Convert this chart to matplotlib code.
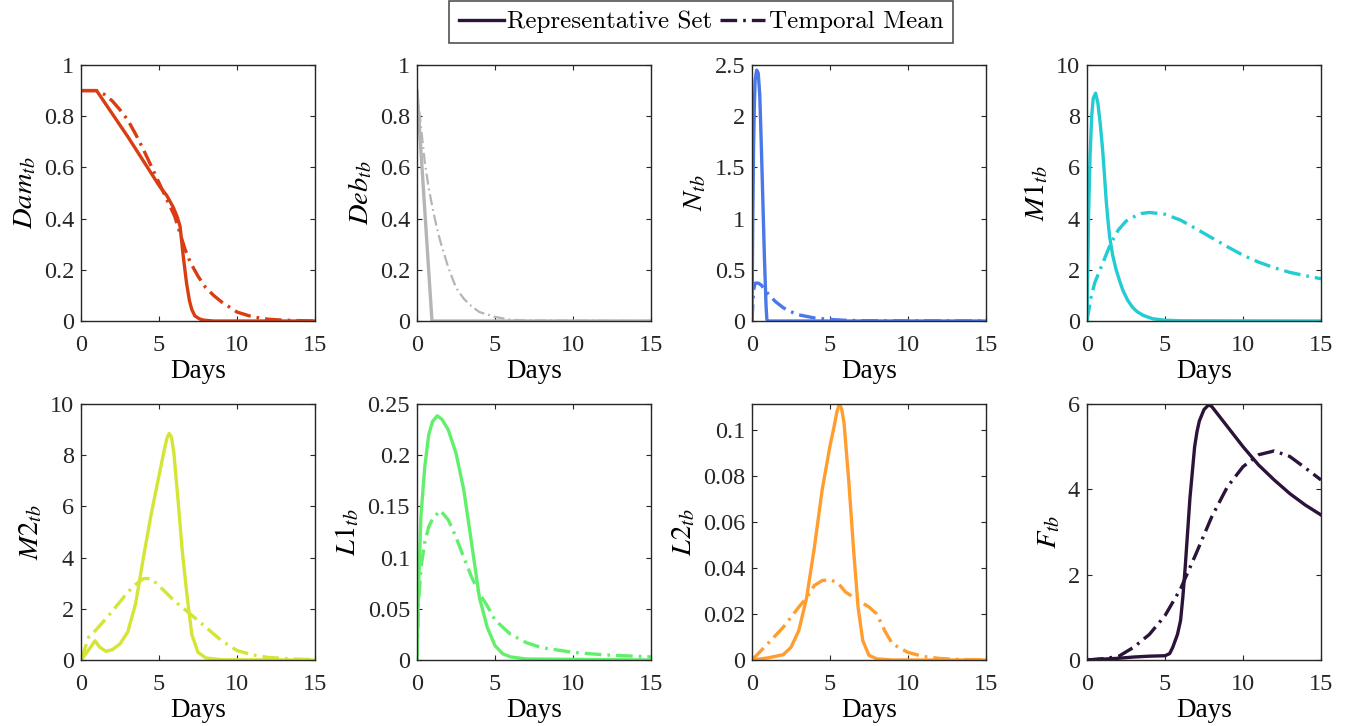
import numpy as np
import matplotlib
matplotlib.use("Agg")
import matplotlib.pyplot as plt
from matplotlib.ticker import FuncFormatter
from matplotlib.lines import Line2D

plt.rcParams['font.family'] = 'serif'
plt.rcParams['font.serif'] = ['Liberation Serif', 'DejaVu Serif']
plt.rcParams['mathtext.fontset'] = 'stix'

# Dam_tb
dam_rep_days = [0, 1.0, 2, 3, 4, 5.06, 5.5, 5.9, 6.15, 6.35, 6.56, 6.77, 6.95, 7.1, 7.3, 7.6, 7.9, 8.5, 15]
dam_rep = [0.9, 0.9, 0.81, 0.72, 0.625, 0.524, 0.49, 0.446, 0.41, 0.37, 0.25, 0.146, 0.08, 0.045, 0.02,
           0.008, 0.003, 0.0, 0.0]
dam_mean_days = [0, 1, 1.5, 2, 2.5, 3, 3.5, 4, 4.5, 5, 5.5, 6, 6.67, 7, 7.5, 8, 8.5, 9, 10, 11, 12, 13, 15]
dam_mean = [0.9, 0.9, 0.885, 0.86, 0.825, 0.785, 0.73, 0.67, 0.605, 0.54, 0.475, 0.41, 0.28, 0.23, 0.175,
            0.13, 0.1, 0.075, 0.035, 0.016, 0.007, 0.003, 0.0]

# Deb_tb
deb_rep_days = [0, 0.96, 15]
deb_rep = [0.9, 0.0, 0.0]
deb_mean_days = [0, 0.25, 0.5, 0.75, 1, 1.25, 1.5, 2, 2.5, 3, 3.5, 4, 5, 6, 7, 15]
deb_mean = [0.9, 0.76, 0.62, 0.52, 0.44, 0.37, 0.31, 0.21, 0.13, 0.087, 0.057, 0.035, 0.016, 0.005, 0.002, 0.0]

# N_tb
n_rep_days = [0, 0.05, 0.1, 0.15, 0.2, 0.3, 0.4, 0.5, 0.6, 0.7, 0.8, 0.9, 0.95, 1.0, 15]
n_rep = [0, 1.0, 1.7, 2.1, 2.35, 2.45, 2.42, 2.2, 1.7, 1.15, 0.6, 0.15, 0.02, 0, 0]
n_mean_days = [0, 0.1, 0.2, 0.4, 0.6, 0.8, 1.0, 1.25, 1.5, 2, 2.5, 3, 4, 5, 6, 7, 15]
n_mean = [0, 0.3, 0.37, 0.37, 0.35, 0.31, 0.27, 0.23, 0.19, 0.13, 0.09, 0.06, 0.03, 0.015, 0.007, 0.003, 0]

# M1_tb
m1_rep_days = [0, 0.1, 0.2, 0.3, 0.4, 0.55, 0.7, 0.85, 1.0, 1.12, 1.23, 1.34, 1.45, 1.65, 1.87, 2.1, 2.3,
               2.6, 2.9, 3.2, 3.6, 4.2, 5, 6, 15]
m1_rep = [0, 4.1, 6.5, 8.0, 8.7, 8.9, 8.5, 7.7, 6.7, 5.7, 4.7, 3.95, 3.3, 2.55, 2.0, 1.55, 1.2, 0.82,
          0.55, 0.37, 0.22, 0.09, 0.03, 0.01, 0]
m1_mean_days = [0, 0.25, 0.5, 1, 1.5, 2, 2.5, 3, 3.5, 4, 5, 6, 7, 8, 9, 10, 11, 12, 13, 14, 15]
m1_mean = [0, 0.9, 1.5, 2.25, 3.0, 3.55, 3.9, 4.07, 4.2, 4.24, 4.17, 3.94, 3.6, 3.25, 2.9, 2.57, 2.3,
           2.08, 1.9, 1.77, 1.65]

# M2_tb
m2_rep_days = [0, 0.5, 0.9, 1.2, 1.6, 2.0, 2.5, 3, 3.5, 4, 4.5, 5, 5.3, 5.5, 5.65, 5.8, 5.95, 6.2, 6.5,
               6.8, 7.1, 7.5, 8, 9, 15]
m2_rep = [0, 0.4, 0.75, 0.5, 0.34, 0.4, 0.63, 1.1, 2.2, 4.0, 5.7, 7.2, 8.1, 8.65, 8.85, 8.7, 8.1, 6.4,
          4.2, 2.5, 1.0, 0.3, 0.08, 0.01, 0]
m2_mean_days = [0, 0.5, 1, 2, 3, 3.5, 4, 4.5, 5, 6, 7, 8, 9, 10, 11, 12, 13, 14, 15]
m2_mean = [0, 0.9, 1.2, 1.9, 2.65, 2.95, 3.18, 3.18, 2.9, 2.3, 1.8, 1.28, 0.76, 0.37, 0.2, 0.1, 0.06, 0.03, 0.02]

# L1_tb
l1_rep_days = [0, 0.1, 0.25, 0.5, 0.75, 1.0, 1.3, 1.6, 2, 2.5, 3, 3.5, 4, 4.5, 5, 5.5, 6, 7, 15]
l1_rep = [0, 0.07, 0.14, 0.189, 0.22, 0.233, 0.2385, 0.235, 0.225, 0.202, 0.166, 0.114, 0.061, 0.032,
          0.014, 0.006, 0.003, 0.001, 0]
l1_mean_days = [0, 0.1, 0.25, 0.5, 0.75, 1.0, 1.5, 2, 2.5, 3, 3.5, 4, 4.5, 5, 6, 7, 8, 10, 12, 15]
l1_mean = [0, 0.055, 0.09, 0.115, 0.13, 0.138, 0.146, 0.137, 0.12, 0.1, 0.081, 0.065, 0.053, 0.039,
           0.025, 0.017, 0.012, 0.0075, 0.005, 0.003]

# L2_tb
l2_rep_days = [0, 1, 2, 2.5, 3, 3.5, 4, 4.5, 5, 5.25, 5.45, 5.6, 5.75, 5.9, 6.2, 6.5, 6.8, 7.1, 7.5, 8, 9, 15]
l2_rep = [0, 0.0009, 0.0023, 0.0055, 0.0128, 0.027, 0.049, 0.074, 0.093, 0.101, 0.108, 0.1112, 0.109,
          0.103, 0.078, 0.049, 0.023, 0.0084, 0.002, 0.0005, 0, 0]
l2_mean_days = [0, 1, 2, 3, 3.5, 4, 4.5, 5, 5.5, 6, 7, 7.5, 8, 8.5, 9, 10, 11, 12, 13, 15]
l2_mean = [0, 0.007, 0.0142, 0.023, 0.027, 0.0324, 0.0345, 0.0349, 0.0335, 0.0295, 0.0251, 0.023, 0.02,
           0.0128, 0.007, 0.0033, 0.0015, 0.0007, 0.0003, 0]

# F_tb
f_rep_days = [0, 1, 2, 3, 4, 5, 5.3, 5.5, 5.8, 6.0, 6.15, 6.3, 6.6, 6.9, 7.05, 7.2, 7.5, 7.8, 8, 9, 10,
              11, 12, 13, 14, 15]
f_rep = [0, 0.02, 0.04, 0.07, 0.09, 0.1, 0.15, 0.3, 0.6, 0.93, 1.5, 2.2, 3.8, 5.0, 5.35, 5.6, 5.87, 5.98,
         5.94, 5.47, 5.0, 4.57, 4.22, 3.9, 3.63, 3.4]
f_mean_days = [0, 1, 2, 3, 4, 5, 6, 7, 8, 9, 10, 11, 12, 13, 14, 15]
f_mean = [0, 0.03, 0.08, 0.3, 0.6, 1.04, 1.67, 2.5, 3.36, 4.06, 4.53, 4.81, 4.9, 4.77, 4.5, 4.22]

labels = [r'$Dam_{tb}$', r'$Deb_{tb}$', r'$N_{tb}$', r'$M1_{tb}$',
          r'$M2_{tb}$', r'$L1_{tb}$', r'$L2_{tb}$', r'$F_{tb}$']
colors = ['#DA3D12', '#B5B5B5', '#4A78E8', '#22CCD2', '#D4E535', '#62F06C', '#FF9E2E', '#2C1339']
series = [
    (dam_rep_days, dam_rep, dam_mean_days, dam_mean),
    (deb_rep_days, deb_rep, deb_mean_days, deb_mean),
    (n_rep_days, n_rep, n_mean_days, n_mean),
    (m1_rep_days, m1_rep, m1_mean_days, m1_mean),
    (m2_rep_days, m2_rep, m2_mean_days, m2_mean),
    (l1_rep_days, l1_rep, l1_mean_days, l1_mean),
    (l2_rep_days, l2_rep, l2_mean_days, l2_mean),
    (f_rep_days, f_rep, f_mean_days, f_mean),
]
ylims = [1, 1, 2.5, 10, 10, 0.25, max(l2_rep), 6]
ysteps = [0.2, 0.2, 0.5, 2, 2, 0.05, 0.02, 2]

fig = plt.figure(figsize=(13.53, 7.26), dpi=100)
W, H = 1353, 726
lefts = [81, 417, 752, 1087]
tops = [65, 404]
aw, ah = 234, 256

dashdot = (0, (5, 1.8, 0.8, 1.8))
for i, (lab, col, (xr, yr, xm, ym)) in enumerate(zip(labels, colors, series)):
    r, c = divmod(i, 4)
    ax = fig.add_axes([lefts[c] / W, 1 - (tops[r] + ah) / H, aw / W, ah / H])
    mlw = 1.6 if i == 1 else 2.4
    ax.plot(xm, ym, color=col, lw=mlw, linestyle=dashdot)
    ax.plot(xr, yr, color=col, lw=2.4, solid_joinstyle='round')
    ax.set_xlim(0, 15)
    ax.set_ylim(0, ylims[i])
    ax.set_xticks([0, 5, 10, 15])
    ax.set_yticks(np.arange(0, ylims[i] + 1e-9, ysteps[i]))
    ax.yaxis.set_major_formatter(FuncFormatter(lambda v, p: f'{v:g}'))
    ax.tick_params(direction='in', top=True, right=True, length=3.5, width=0.8,
                   labelsize=17.5, colors='#262626', labelcolor='#262626')
    ax.tick_params(axis='x', pad=10)
    ax.tick_params(axis='y', pad=5)
    for s in ax.spines.values():
        s.set_color('#262626')
        s.set_linewidth(1.0)
    ax.set_xlabel('Days', fontsize=19.5, labelpad=2)
    ax.set_ylabel(lab, fontsize=20.5, labelpad=4)

handles = [Line2D([], [], color=colors[-1], lw=2.4),
           Line2D([], [], color=colors[-1], lw=2.4, linestyle=dashdot)]
leg = fig.legend(handles, ['Representative Set', 'Temporal Mean'], loc='center',
                 bbox_to_anchor=(701 / W, 1 - 22 / H), ncol=2, frameon=True, fancybox=False,
                 prop={'family': 'cmr10', 'size': 18}, handlelength=1.8, handletextpad=0.15,
                 columnspacing=0.3, borderpad=0.4, borderaxespad=0)
leg.get_frame().set_edgecolor('#262626')
leg.get_frame().set_linewidth(1.2)

fig.savefig('out.png', dpi=100)
